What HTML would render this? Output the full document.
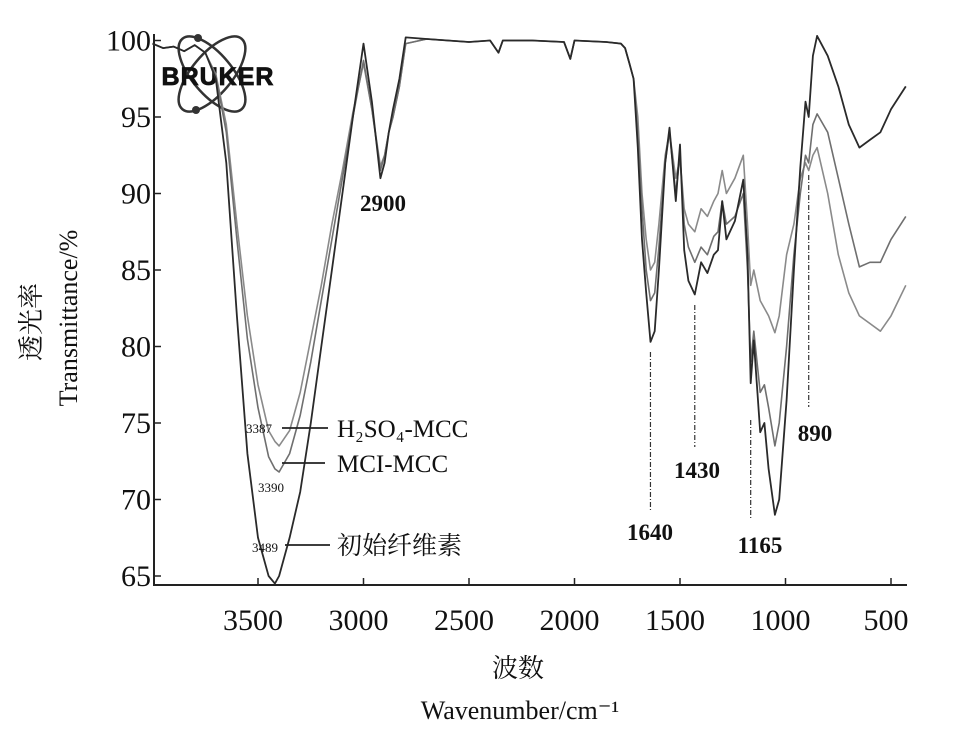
<!DOCTYPE html>
<html><head><meta charset="utf-8"><style>
html,body{margin:0;padding:0;background:#fff}
svg{display:block}
text{font-family:"Liberation Serif","Noto Serif CJK SC",serif;fill:#111}
</style></head><body>
<svg id="chart" width="958" height="734" viewBox="0 0 958 734" xmlns="http://www.w3.org/2000/svg">
<g id="plot"></g>
</svg>
<script>
const wavenumbers=[4000,3950,3900,3850,3800,3750,3700,3650,3600,3550,3500,3450,3420,3400,3350,3300,3250,3200,3150,3100,3050,3000,2960,2920,2900,2880,2860,2830,2800,2700,2500,2400,2360,2340,2200,2050,2020,2000,1850,1780,1760,1740,1720,1700,1680,1660,1640,1620,1600,1570,1550,1520,1500,1480,1460,1430,1400,1370,1340,1320,1300,1280,1240,1200,1180,1165,1150,1120,1100,1080,1050,1030,995,960,930,905,890,870,850,800,750,700,650,600,550,500,430];
const initialCellulose=[99.8,99.5,99.6,99.3,99.7,99.2,97.5,92,82,73,67.5,65,64.5,65,67.5,70.5,75,80,85,90,95,99.8,96,91,92,94,95.5,97.5,100.2,100.1,99.9,100,99.2,100,100,99.9,98.8,100,99.9,99.8,99.5,98.5,97.5,93,87,83.5,80.3,81,85,92,94.3,89.5,93.2,86.3,84.3,83.4,85.5,84.8,86,86.3,89.5,87,88.2,90.9,86,77.6,80.4,74.4,75,72,69,70,76.5,85,91.7,96,95,99,100.3,99,97,94.5,93,93.5,94,95.5,97];
const mciMcc=[99.8,99.5,99.6,99.3,99.7,99.2,97.7,94,87,80.5,76,72.8,72,71.8,73,75.5,79,83,87,91,95,98.7,95.5,91.5,92.5,94,95,97,99.8,100.1,99.9,100,99.2,100,100,99.9,98.8,100,99.9,99.8,99.5,98.5,97.5,94,89,85,83,83.5,86.5,92,94,90,92.5,88,86.5,85.5,86.5,86,87.2,87.5,89.5,88,88.5,90,85,79,81,77,77.5,76,73.5,75,80,86,90,92.5,92,94.5,95.2,94,91,88,85.2,85.5,85.5,87,88.5];
const h2so4Mcc=[99.8,99.5,99.6,99.3,99.7,99.2,97.8,94.5,88,82,77.5,74.5,73.8,73.5,74.5,77,80.5,84,88,91.5,95.3,98.5,95.5,91.8,92.5,94,95,97,99.8,100.1,99.9,100,99.2,100,100,99.9,98.8,100,99.9,99.8,99.5,98.5,97.5,95,90,87,85,85.5,88,92.5,94,91,92.3,89,88,87.5,89,88.5,89.5,90,91.5,90,91,92.5,88,84,85,83,82.5,82,80.9,82,86,88,91,92,91.5,92.5,93,90,86,83.5,82,81.5,81,82,84];
const xTicks=[3500,3000,2500,2000,1500,1000,500];
const yTicks=[65,70,75,80,85,90,95,100];

const X0=154,XB=585;
function xs(w){return 258+(3500-w)*0.211;}
function ys(t){return 576-(t-65)*15.3;}
const NS="http://www.w3.org/2000/svg";
const g=document.getElementById('plot');
function mk(tag,attrs,parent){const e=document.createElementNS(NS,tag);for(const k in attrs)e.setAttribute(k,attrs[k]);(parent||g).appendChild(e);return e;}

// logo
const logo=mk('g',{});


mk('ellipse',{cx:212,cy:74,rx:46,ry:20,fill:'none',stroke:'#333','stroke-width':2.5,transform:'rotate(50 212 74)'},logo);
mk('ellipse',{cx:212,cy:74,rx:46,ry:20,fill:'none',stroke:'#333','stroke-width':2.5,transform:'rotate(-50 212 74)'},logo);
mk('circle',{cx:196,cy:110,r:4,fill:'#333'},logo);
mk('circle',{cx:198,cy:38,r:4,fill:'#333'},logo);
const lt=mk('text',{x:218,y:85,'text-anchor':'middle','font-size':25,'font-weight':'bold','letter-spacing':'1',style:'font-family:"Liberation Sans",sans-serif;stroke:#111;stroke-width:0.8'},logo);
lt.textContent='BRUKER';

// axes
const ax=mk('path',{d:`M${X0},34 V${XB} H907`,fill:'none',stroke:'#222','stroke-width':2});


yTicks.forEach(v=>{
  const y=ys(v);
  const tk=mk('line',{x1:X0,x2:X0+7,y1:y,y2:y,stroke:'#222','stroke-width':1.5});
  
  
  const t=mk('text',{x:151,y:y+10,'text-anchor':'end','font-size':30});
  
  
  t.textContent=v;
});
xTicks.forEach(v=>{
  const x=xs(v);
  const tk=mk('line',{x1:x,x2:x,y1:XB,y2:XB-7,stroke:'#222','stroke-width':1.5});
  
  
  const t=mk('text',{x:x-5,y:630,'text-anchor':'middle','font-size':30});
  
  
  t.textContent=v;
});

function series(data,color,w,name){
  const d=wavenumbers.map((wn,i)=>(i?'L':'M')+xs(wn).toFixed(1)+','+ys(data[i]).toFixed(1)).join(' ');
  const p=mk('path',{d:d,fill:'none',stroke:color,'stroke-width':w,'stroke-linejoin':'round'});
  
  
}
series(h2so4Mcc,'#8a8a8a',1.6,'h2so4-mcc-line');
series(mciMcc,'#6f6f6f',1.6,'mci-mcc-line');
series(initialCellulose,'#2a2a2a',1.8,'initial-cellulose-line');

// peak markers
const peaks=[[1640,352,510,'1640',650,540],[1430,305,447,'1430',697,478],[1165,420,518,'1165',760,553],[890,175,407,'890',815,441]];
peaks.forEach(p=>{
  const x=xs(p[0]);
  const l=mk('line',{x1:x,x2:x,y1:p[1],y2:p[2],stroke:'#333','stroke-width':1.2,'stroke-dasharray':'5 2 1 2'});
  
  
  const t=mk('text',{x:p[4],y:p[5],'text-anchor':'middle','font-size':23,'font-weight':'bold'});
  
  
  t.textContent=p[3];
});
const t29=mk('text',{x:383,y:211,'text-anchor':'middle','font-size':23,'font-weight':'bold'});


t29.textContent='2900';

// legend callouts
const legs=[['3387',246,433,282,328,428,'H₂SO₄-MCC'],['3390',258,492,282,325,463,'MCI-MCC'],['3489',252,552,285,330,545,'初始纤维素']];
legs.forEach(L=>{
  const s=mk('text',{x:L[1],y:L[2],'font-size':13});
  
  
  s.textContent=L[0];
  const ln=mk('line',{x1:L[3],x2:L[4],y1:L[5],y2:L[5],stroke:'#222','stroke-width':1.8});
  
  
  const t=mk('text',{x:337,y:L[5]+9,'font-size':25});
  
  
  t.textContent=L[6];
});

// axis titles
const yt1=mk('text',{x:0,y:0,'font-size':26,'text-anchor':'middle',transform:'translate(40,322) rotate(-90)'});


yt1.textContent='透光率';
const yt2=mk('text',{x:0,y:0,'font-size':26,'text-anchor':'middle',transform:'translate(77,318) rotate(-90)'});


yt2.textContent='Transmittance/%';
const xt1=mk('text',{x:518,y:677,'font-size':26,'text-anchor':'middle'});


xt1.textContent='波数';
const xt2=mk('text',{x:520,y:719,'font-size':26,'text-anchor':'middle'});


xt2.textContent='Wavenumber/cm⁻¹';
</script>
</body></html>
